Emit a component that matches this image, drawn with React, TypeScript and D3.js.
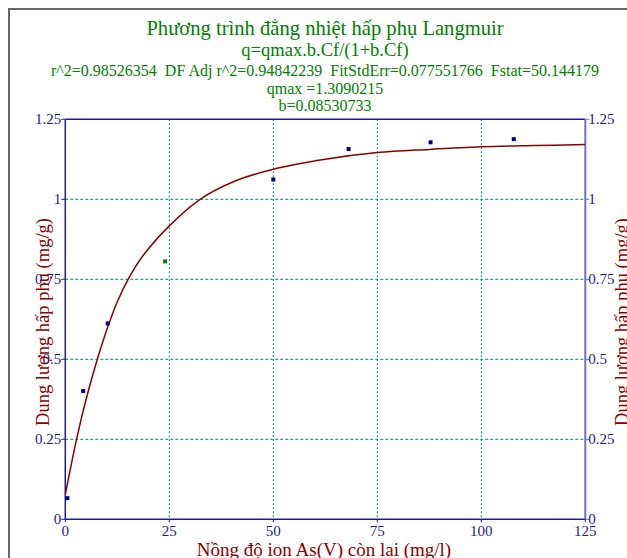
import React from "react";
import * as d3 from "d3";

// measured points (Cf, q)
const cfData = [0.5, 4.3, 10.2, 24.0, 50.0, 68.1, 87.8, 107.8];
const qData = [0.066, 0.401, 0.612, 0.806, 1.062, 1.157, 1.178, 1.188];
const pointColors = ["#000080", "#000080", "#000080", "#008000", "#000080", "#000080", "#000080", "#000080"];

// fitted curve
const fitCf = [0, 2.7, 5, 7.7, 10.1, 12.5, 15.1, 18.75, 25, 32.4, 40.4, 50, 62.5, 75, 87.5, 100, 112.5, 125];
const fitQ = [0.078, 0.25, 0.375, 0.5, 0.597, 0.68, 0.75, 0.825, 0.917, 1.0, 1.055, 1.094, 1.125, 1.146, 1.156, 1.164, 1.168, 1.171];

const xTicks = [0, 25, 50, 75, 100, 125];
const yTicks = [0, 0.25, 0.5, 0.75, 1, 1.25];
const yTickLabels = ["0", "0.25", "0.5", "0.75", "1", "1.25"];

const titleLines = [
  "Phương trình đẳng nhiệt hấp phụ Langmuir",
  "q=qmax.b.Cf/(1+b.Cf)",
  "r^2=0.98526354  DF Adj r^2=0.94842239  FitStdErr=0.077551766  Fstat=50.144179",
  "qmax =1.3090215",
  "b=0.08530733",
];

const W = 627;
const H = 558;
const left = 65.3;
const right = 585.3;
const top = 119.3;
const bottom = 519.3;

const navy = "#1c1c8c";
const grid = "#008080";
const darkRed = "#8b0000";
const font = "'Liberation Serif', 'Times New Roman', serif";

export default function App() {
  const x = d3.scaleLinear().domain([0, 125]).range([left, right]);
  const y = d3.scaleLinear().domain([0, 1.25]).range([bottom, top]);

  const line = d3
    .line<number>()
    .x((d, i) => x(fitCf[i]))
    .y((d) => y(d))
    .curve(d3.curveCatmullRom.alpha(0.5));

  const titleY = [35, 56, 76, 94, 111];
  const titleSize = [20.6, 18.5, 16, 16, 16];

  return (
    <svg
      width={W}
      height={H}
      style={{ position: "absolute", left: 0, top: 0, background: "#fff" }}
      fontFamily={font}
    >
      {/* outer frame */}
      <rect x={9} y={9} width={W + 20} height={H + 20} fill="none" stroke="#666" strokeWidth={2} />

      {titleLines.map((t, i) => (
        <text
          key={i}
          x={325}
          y={titleY[i]}
          textAnchor="middle"
          fill="#008000"
          fontSize={titleSize[i]}
          style={{ whiteSpace: "pre" }}
        >
          {t}
        </text>
      ))}

      {/* grid */}
      {xTicks.slice(1, -1).map((t) => (
        <line key={"gx" + t} x1={x(t)} x2={x(t)} y1={top} y2={bottom} stroke={grid} strokeDasharray="2,2" />
      ))}
      {yTicks.slice(1, -1).map((t) => (
        <line key={"gy" + t} x1={left} x2={right} y1={y(t)} y2={y(t)} stroke={grid} strokeDasharray="3,2" />
      ))}

      {/* frame lines */}
      <line x1={left} x2={right} y1={top} y2={top} stroke={navy} strokeWidth={1.5} />
      <line x1={left} x2={right} y1={bottom} y2={bottom} stroke={navy} strokeWidth={1.5} />
      <line x1={left} x2={left} y1={top} y2={bottom} stroke={navy} strokeWidth={1.5} />
      <line x1={right} x2={right} y1={top} y2={bottom} stroke="#7070c0" strokeWidth={2} />

      {/* y ticks */}
      {yTicks.map((t, i) => (
        <g key={"yt" + t}>
          <line x1={left - 4} x2={left} y1={y(t)} y2={y(t)} stroke={navy} />
          <line x1={right} x2={right + 4} y1={y(t)} y2={y(t)} stroke="#7070c0" />
          <text x={left - 4} y={y(t) + 5} textAnchor="end" fill={navy} fontSize={15}>
            {yTickLabels[i]}
          </text>
          <text x={right + 3} y={y(t) + 5} textAnchor="start" fill={navy} fontSize={15}>
            {yTickLabels[i]}
          </text>
        </g>
      ))}

      {/* x ticks */}
      {xTicks.map((t) => (
        <g key={"xt" + t}>
          <line x1={x(t)} x2={x(t)} y1={bottom} y2={bottom + 3} stroke={navy} />
          <text x={x(t)} y={bottom + 17} textAnchor="middle" fill={navy} fontSize={15}>
            {t}
          </text>
        </g>
      ))}

      {/* axis titles */}
      <text
        transform={`translate(49, ${322}) rotate(-90)`}
        textAnchor="middle"
        fill={darkRed}
        fontSize={18.5}
      >
        Dung lượng hấp phụ (mg/g)
      </text>
      <text
        transform={`translate(628, ${322}) rotate(-90)`}
        textAnchor="middle"
        fill={darkRed}
        fontSize={18.5}
      >
        Dung lượng hấp phụ (mg/g)
      </text>
      <text x={324} y={556} textAnchor="middle" fill={darkRed} fontSize={19}>
        Nồng độ ion As(V) còn lai (mg/l)
      </text>

      {/* fit curve */}
      <path d={line(fitQ) || ""} fill="none" stroke={darkRed} strokeWidth={1.5} />

      {/* data points */}
      {cfData.map((c, i) => (
        <rect
          key={"p" + i}
          x={x(c) - 2}
          y={y(qData[i]) - 2}
          width={4}
          height={4}
          fill={pointColors[i]}
        />
      ))}
    </svg>
  );
}
